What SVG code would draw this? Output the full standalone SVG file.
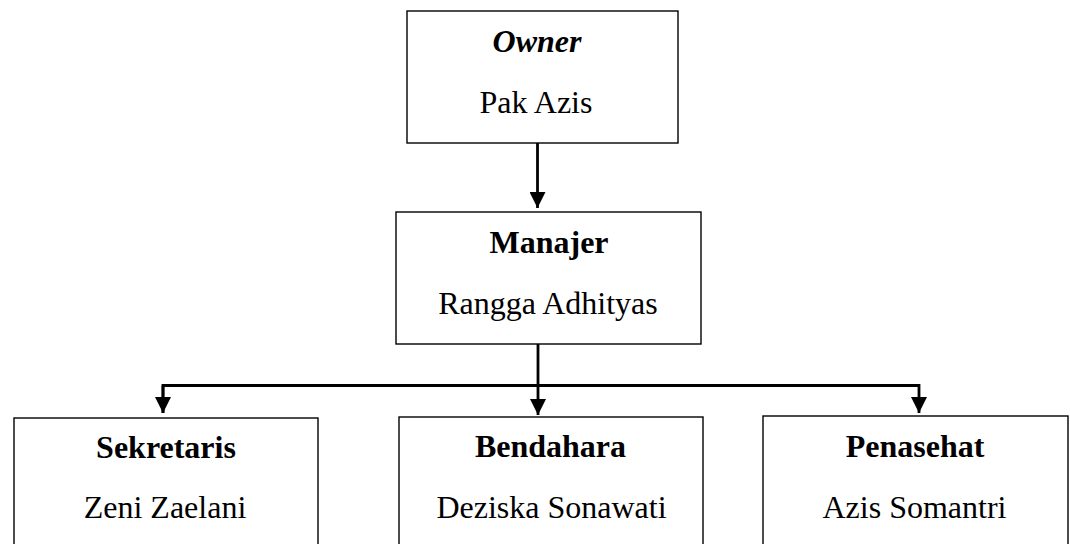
<svg xmlns="http://www.w3.org/2000/svg" width="1070" height="544" viewBox="0 0 1070 544">
<style>
.box{fill:#fff;stroke:#000;stroke-width:1.4}
.t{font-family:"Liberation Serif","Times New Roman",serif;font-size:32px;text-anchor:middle;fill:#000}
.b{font-weight:bold}
.bi{font-weight:bold;font-style:italic}
.c{fill:none;stroke:#000;stroke-width:2.8}
</style>
<defs>
<marker id="ah" markerUnits="userSpaceOnUse" markerWidth="18" markerHeight="16" refX="16" refY="8" orient="auto">
<path d="M0,0 L16,8 L0,16 Z" fill="#000"/>
</marker>
</defs>
<rect width="1070" height="544" fill="#fff"/>
<g id="connectors">
<line class="c" x1="537.5" y1="143" x2="537.5" y2="208" marker-end="url(#ah)"/>
<line class="c" x1="538" y1="344" x2="538" y2="415" marker-end="url(#ah)"/>
<polyline class="c" points="163,413 163,385.5 919,385.5 919,413" marker-end="url(#ah)"/>
<line class="c" x1="163" y1="385.5" x2="163" y2="413" marker-end="url(#ah)"/>
</g>
<g id="owner">
<rect class="box" x="407" y="11" width="271" height="132"/>
<text class="t bi" x="537" y="52">Owner</text>
<text class="t" x="536" y="113">Pak Azis</text>
</g>
<g id="manajer">
<rect class="box" x="396" y="212" width="305" height="132"/>
<text class="t b" x="549" y="253">Manajer</text>
<text class="t" x="548" y="314">Rangga Adhityas</text>
</g>
<g id="sekretaris">
<rect class="box" x="14" y="418" width="304" height="150"/>
<text class="t b" x="166" y="458">Sekretaris</text>
<text class="t" x="165" y="518">Zeni Zaelani</text>
</g>
<g id="bendahara">
<rect class="box" x="399" y="417" width="304" height="150"/>
<text class="t b" x="550.5" y="457">Bendahara</text>
<text class="t" x="551.5" y="518">Deziska Sonawati</text>
</g>
<g id="penasehat">
<rect class="box" x="763" y="416" width="305" height="150"/>
<text class="t b" x="915" y="457">Penasehat</text>
<text class="t" x="914.5" y="518">Azis Somantri</text>
</g>
</svg>
